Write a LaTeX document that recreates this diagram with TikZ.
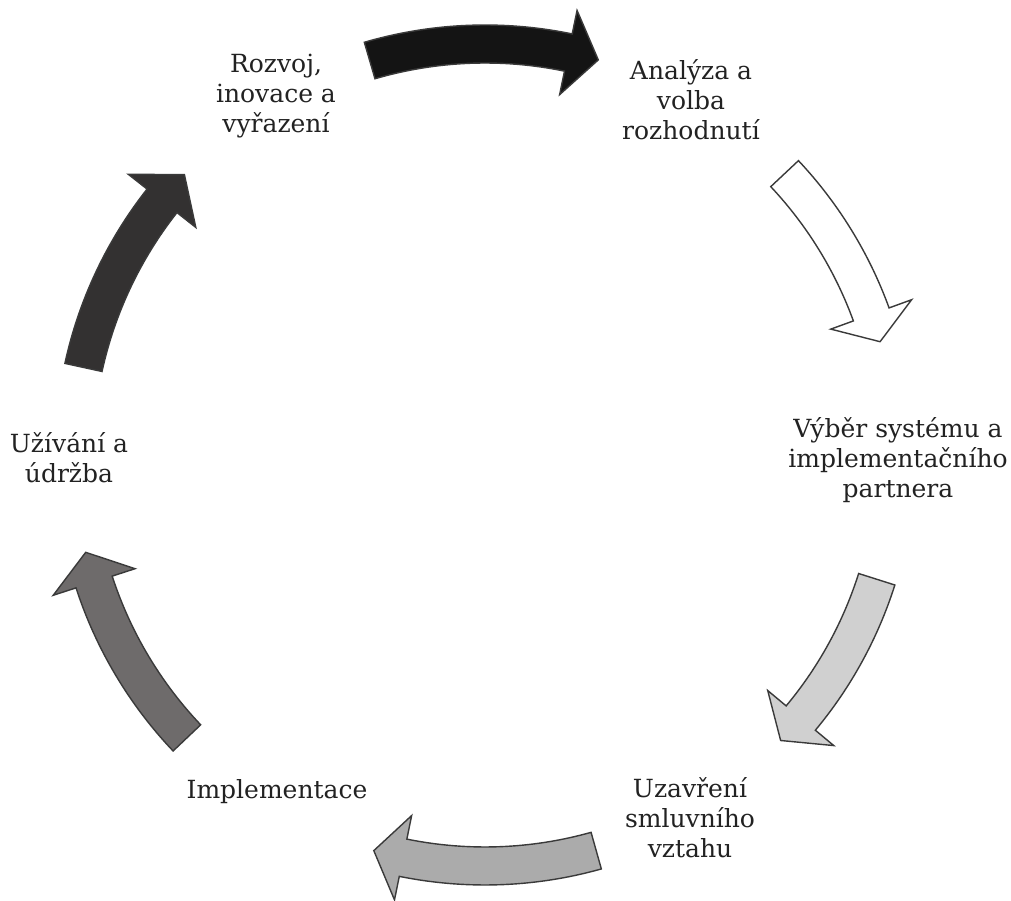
\documentclass[tikz,border=0pt]{standalone}
\usepackage{fontspec}
\setmainfont{DejaVu Serif}
\definecolor{txt}{HTML}{222222}
\definecolor{edge}{HTML}{3A3A3A}
\definecolor{aBlack}{HTML}{141414}
\definecolor{aWhite}{HTML}{FFFFFF}
\definecolor{aLight}{HTML}{D0D0D0}
\definecolor{aMid}{HTML}{ABABAB}
\definecolor{aDark}{HTML}{6E6B6B}
\definecolor{aDeep}{HTML}{333131}
% curved block arrow around the cycle centre:
% #1 fill, #2 tail angle, #3 head base angle, #4 tip angle
\newcommand{\cyclearrow}[4]{%
  \draw[blockarrow, fill=#1]
    (#2:430) arc[start angle=#2, end angle=#3, radius=430]
    -- (#3:454) -- (#4:411) -- (#3:368) -- (#3:392)
    arc[start angle=#3, end angle=#2, radius=392] -- cycle;}
\begin{document}
\begin{tikzpicture}[x=1pt, y=1pt,
  blockarrow/.style={draw=edge, line width=1.4pt, line join=miter},
  label/.style={align=center, text=txt, inner sep=0pt,
    font=\fontsize{25}{30}\selectfont}]
\useasboundingbox (0,0) rectangle (1011,901);
\fill[white] (0,0) rectangle (1011,901);

% stage labels
\node[label] (rozvoj)   at (276,805) {Rozvoj,\\inovace a\\vyřazení};
\node[label] (analyza)  at (691,801) {Analýza a\\volba\\rozhodnutí};
\node[label] (vyber)    at (898,441) {Výběr systému a\\implementačního\\partnera};
\node[label] (smlouva)  at (690,83)  {Uzavření\\smluvního\\vztahu};
\node[label] (impl)     at (277,109) {Implementace};
\node[label] (udrzba)   at (69,443)  {Užívání a\\údržba};

% arrows of the cycle
\begin{scope}[shift={(485,446)}]
  \cyclearrow{aBlack}{106.3}{78.3}{74}
  \cyclearrow{aWhite}{43.2}{20}{16}
  \cyclearrow{aLight}{-17.6}{-39.8}{-44}
  \cyclearrow{aMid}{-74.3}{-101.5}{-105.7}
  \cyclearrow{aDark}{-136.5}{-162}{-166.3}
  \cyclearrow{aDeep}{167.7}{141.8}{137}
\end{scope}
\end{tikzpicture}
\end{document}
